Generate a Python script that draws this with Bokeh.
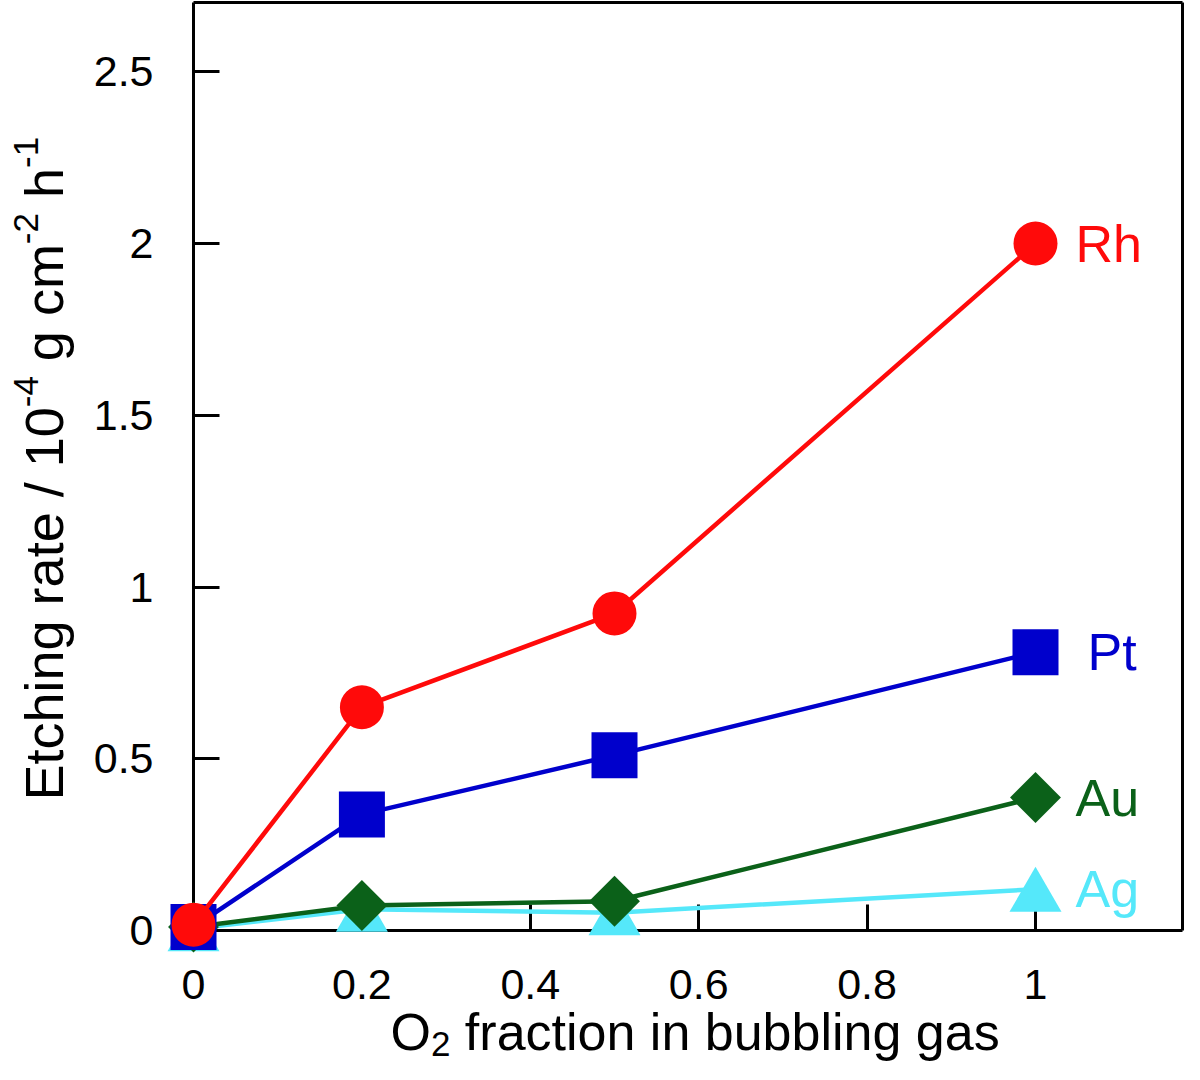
import numpy as np
from bokeh.plotting import figure
from bokeh.models import Range1d, FixedTicker, Label, ColumnDataSource, LinearAxis
from bokeh.core.properties import value
from bokeh.transform import dodge
from bokeh.embed import file_html
from bokeh.resources import INLINE

# ---------------- data ----------------
o2_fraction = [0.0, 0.2, 0.5, 1.0]
rh = [0.017, 0.65, 0.923, 2.0]
pt = [0.01, 0.338, 0.51, 0.81]
au = [0.01, 0.073, 0.085, 0.387]
ag = [0.005, 0.062, 0.052, 0.12]
series_names = ["Rh", "Pt", "Au", "Ag"]
x_ticks = [0, 0.2, 0.4, 0.6, 0.8, 1]
x_tick_labels = ["0", "0.2", "0.4", "0.6", "0.8", "1"]
y_ticks = [0, 0.5, 1, 1.5, 2, 2.5]
y_tick_labels = ["0", "0.5", "1", "1.5", "2", "2.5"]

# ---------------- layout (pixels on the canvas) ----------------
W, H = 1184, 1064
X0_PX, X1_PX = 193.0, 1035.0      # where x=0 and x=1 fall
Y0_PX, Y2_PX = 930.0, 243.0       # where y=0 and y=2 fall
BOX_R, BOX_T = 1182.0, 2.0        # right and top edges of the box
ppx = X1_PX - X0_PX
ppy = (Y0_PX - Y2_PX) / 2.0

def dx(px):
    return (px - X0_PX) / ppx

def dy(py):
    return (Y0_PX - py) / ppy

x_box, y_box = dx(BOX_R), dy(BOX_T)

FONT = "Liberation Sans"
RED = "#FF0A0A"
BLUE = "#0000CC"
GREEN = "#0B6119"
CYAN = "#55E8FA"

ARIAL = {"E": 667, "t": 278, "c": 500, "h": 556, "i": 222, "n": 556, "g": 556,
         " ": 278, "r": 333, "a": 556, "e": 556, "/": 278, "1": 556, "0": 556,
         "-": 333, "4": 556, "m": 833, "2": 556, "O": 778, "f": 278, "o": 556,
         "b": 556, "u": 556, "l": 222, "s": 500}
MID = 0.3465  # baseline -> middle of font box, in em

def tw(s, size):
    return sum(ARIAL.get(c, 556) for c in s) * size / 1000.0

p = figure(width=W, height=H, x_range=Range1d(dx(0), dx(W)), y_range=Range1d(dy(H), dy(0)),
           output_backend="svg", toolbar_location=None, x_axis_type=None, y_axis_type=None,
           min_border_left=0, min_border_right=0, min_border_top=0, min_border_bottom=0)
p.grid.visible = False
p.outline_line_color = None
p.background_fill_color = "white"
p.border_fill_color = "white"

def style_axis(ax, ticks, labels, standoff):
    ax.ticker = FixedTicker(ticks=ticks)
    ax.major_label_overrides = {float(t): l for t, l in zip(ticks, labels)}
    ax.axis_line_width = 3
    ax.axis_line_color = "black"
    ax.major_tick_line_width = 3
    ax.major_tick_line_color = "black"
    ax.major_tick_in = 26
    ax.major_tick_out = 0
    ax.minor_tick_line_color = None
    ax.major_label_text_font = FONT
    ax.major_label_text_font_size = "43px"
    ax.major_label_text_color = "black"
    ax.major_label_standoff = standoff
    ax.level = "underlay"

xax = LinearAxis(fixed_location=0, bounds=(0, x_box))
style_axis(xax, x_ticks, x_tick_labels, 39)
p.add_layout(xax, "below")
yax = LinearAxis(fixed_location=0, bounds=(0, y_box))
style_axis(yax, y_ticks, y_tick_labels, 40)
p.add_layout(yax, "left")

# closing lines of the box (right and top), plain axes without ticks
for side, loc, bnds in (("right", x_box, (0, y_box)), ("above", y_box, (0, x_box))):
    ax = LinearAxis(fixed_location=loc, ticker=FixedTicker(ticks=[]), bounds=bnds,
                    axis_line_width=3, axis_line_color="black", major_tick_line_color=None,
                    minor_tick_line_color=None, major_label_text_font_size="0px",
                    level="underlay")
    p.add_layout(ax, side)

# ---------------- series ----------------
LW = 4.5
src_ag = ColumnDataSource(dict(x=o2_fraction, y=ag))
p.line("x", "y", source=src_ag, line_color=CYAN, line_width=LW)
p.scatter("x", dodge("y", -0.022, range=p.y_range), source=src_ag, marker="triangle",
          size=52, fill_color=CYAN, line_color=None)

p.line(o2_fraction, au, line_color=GREEN, line_width=LW)
p.scatter(o2_fraction, au, marker="square", angle=np.pi / 4, size=36,
          fill_color=GREEN, line_color=None)

p.line(o2_fraction, pt, line_color=BLUE, line_width=LW)
p.scatter(o2_fraction, pt, marker="square", size=46, fill_color=BLUE, line_color=None)

p.line(o2_fraction, rh, line_color=RED, line_width=LW)
p.scatter(o2_fraction, rh, marker="circle", size=44, fill_color=RED, line_color=None)

for name, vals, col, xoff in ((series_names[0], rh, RED, 40), (series_names[1], pt, BLUE, 52),
                              (series_names[2], au, GREEN, 40), (series_names[3], ag, CYAN, 40)):
    p.text(x=[o2_fraction[-1]], y=[vals[-1]], text=[name], x_offset=xoff, y_offset=0,
           text_align="left", text_baseline="middle",
           text_font=value(FONT), text_font_size="52px", text_color=col)

# ---------------- axis titles ----------------
def add_label(txt, px, py, size, angle=0.0):
    p.add_layout(Label(x=dx(px), y=dy(py), text=txt, angle=angle, text_font=FONT,
                       text_font_size=f"{size}px", text_color="black",
                       text_align="left", text_baseline="middle"))

# x title: O2 fraction in bubbling gas
S, SS = 52, 35
base_main, base_sub = 1050.0, 1056.0
cur = 390.0
for txt, size, base in (("O", S, base_main), ("2", SS, base_sub),
                        (" fraction in bubbling gas", S, base_main)):
    lead = len(txt) - len(txt.lstrip())
    cur += tw(" " * lead, size)
    core = txt.strip()
    add_label(core, cur, base - MID * size, size)
    cur += tw(core, size)

# y title: Etching rate / 10^-4 g cm^-2 h^-1 (rotated, reads bottom to top)
S2, SS2 = 54, 35
base_x_main, base_x_sup = 62.0, 38.0
cur = 800.0
for txt, size, bx in (("Etching rate / 10", S2, base_x_main), ("-4", SS2, base_x_sup),
                      (" g cm", S2, base_x_main), ("-2", SS2, base_x_sup),
                      (" h", S2, base_x_main), ("-1", SS2, base_x_sup)):
    lead = len(txt) - len(txt.lstrip())
    cur -= tw(" " * lead, size)
    core = txt.strip()
    add_label(core, bx - MID * size, cur, size, angle=np.pi / 2)
    cur -= tw(core, size)

open("out.html", "w").write(file_html(p, INLINE))
